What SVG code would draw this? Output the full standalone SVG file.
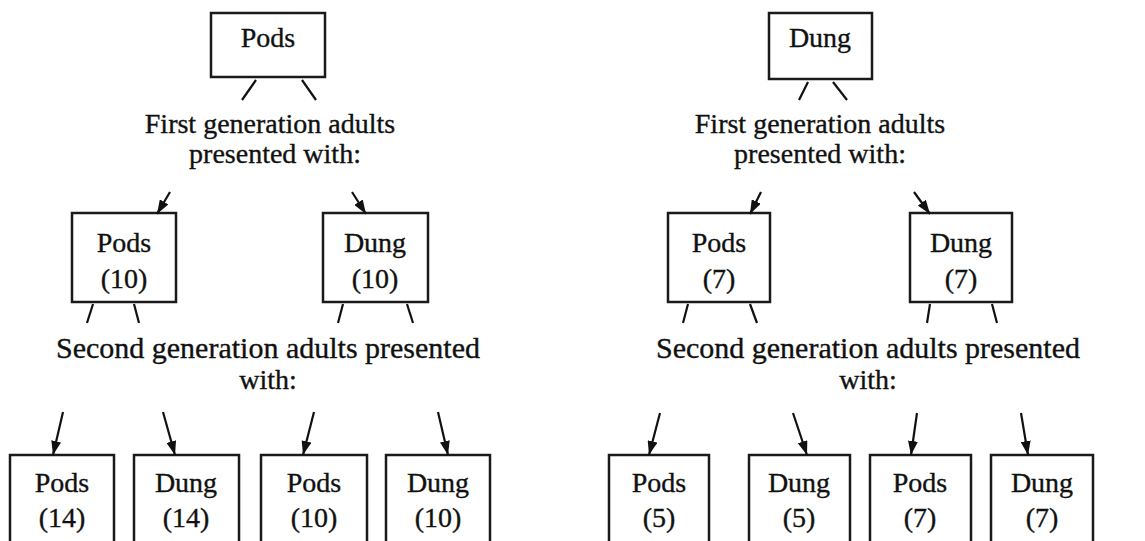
<svg xmlns="http://www.w3.org/2000/svg" width="1145" height="541" viewBox="0 0 1145 541">
<defs>
<style>
.box{fill:#fff;stroke:#1a1a1a;stroke-width:2.5}
.t{font-family:'Liberation Serif','Times New Roman',serif;font-size:28px;fill:#111;stroke:#111;stroke-width:0.35;text-anchor:middle}
.l2{font-size:30px}
.ln{stroke:#111;stroke-width:2.2;fill:none}
.ar{stroke:#111;stroke-width:2.2;fill:none;marker-end:url(#ah)}
</style>
<marker id="ah" viewBox="0 0 14 10" refX="14" refY="5" markerWidth="14" markerHeight="10" markerUnits="userSpaceOnUse" orient="auto">
<path d="M0,0 L14,5 L0,10 z" fill="#111"/>
</marker>
</defs>
<rect width="1145" height="541" fill="#fff"/>

<!-- LEFT TREE -->
<g id="L-root"><rect class="box" x="211" y="13" width="114" height="64"/><text class="t" x="268" y="47">Pods</text></g>
<g id="L-label1"><text class="t" x="270" y="133">First generation adults</text><text class="t" x="275" y="163">presented with:</text></g>
<g id="L-pods10"><rect class="box" x="72" y="213" width="104" height="89"/><text class="t" x="124" y="252">Pods</text><text class="t" x="124" y="288">(10)</text></g>
<g id="L-dung10"><rect class="box" x="323" y="213" width="105" height="89"/><text class="t" x="375" y="252">Dung</text><text class="t" x="375" y="288">(10)</text></g>
<g id="L-label2"><text class="t l2" x="268" y="358">Second generation adults presented</text><text class="t" x="268" y="389">with:</text></g>
<g id="L-pods14"><rect class="box" x="10" y="455" width="104" height="100"/><text class="t" x="62" y="492">Pods</text><text class="t" x="62" y="527">(14)</text></g>
<g id="L-dung14"><rect class="box" x="134" y="455" width="105" height="100"/><text class="t" x="186" y="492">Dung</text><text class="t" x="186" y="527">(14)</text></g>
<g id="L-pods10b"><rect class="box" x="261" y="455" width="106" height="100"/><text class="t" x="314" y="492">Pods</text><text class="t" x="314" y="527">(10)</text></g>
<g id="L-dung10b"><rect class="box" x="386" y="455" width="104" height="100"/><text class="t" x="438" y="492">Dung</text><text class="t" x="438" y="527">(10)</text></g>

<!-- RIGHT TREE -->
<g id="R-root"><rect class="box" x="769" y="13" width="103" height="66"/><text class="t" x="820" y="47">Dung</text></g>
<g id="R-label1"><text class="t" x="820" y="133">First generation adults</text><text class="t" x="820" y="163">presented with:</text></g>
<g id="R-pods7"><rect class="box" x="668" y="213" width="102" height="89"/><text class="t" x="719" y="252">Pods</text><text class="t" x="719" y="288">(7)</text></g>
<g id="R-dung7"><rect class="box" x="910" y="213" width="102" height="89"/><text class="t" x="961" y="252">Dung</text><text class="t" x="961" y="288">(7)</text></g>
<g id="R-label2"><text class="t l2" x="868" y="358">Second generation adults presented</text><text class="t" x="868" y="389">with:</text></g>
<g id="R-pods5"><rect class="box" x="609" y="455" width="100" height="100"/><text class="t" x="659" y="492">Pods</text><text class="t" x="659" y="527">(5)</text></g>
<g id="R-dung5"><rect class="box" x="749" y="455" width="101" height="100"/><text class="t" x="799" y="492">Dung</text><text class="t" x="799" y="527">(5)</text></g>
<g id="R-pods7b"><rect class="box" x="870" y="455" width="101" height="100"/><text class="t" x="920" y="492">Pods</text><text class="t" x="920" y="527">(7)</text></g>
<g id="R-dung7b"><rect class="box" x="991" y="455" width="102" height="100"/><text class="t" x="1042" y="492">Dung</text><text class="t" x="1042" y="527">(7)</text></g>

<g id="connectors">
<line class="ln" x1="256" y1="80" x2="242" y2="100"/>
<line class="ln" x1="302" y1="80" x2="316" y2="100"/>
<line class="ar" x1="170" y1="192" x2="157" y2="214"/>
<line class="ar" x1="352" y1="192" x2="366" y2="214"/>
<line class="ln" x1="93" y1="304" x2="87" y2="323"/>
<line class="ln" x1="134" y1="304" x2="139" y2="323"/>
<line class="ln" x1="343" y1="304" x2="338" y2="323"/>
<line class="ln" x1="407" y1="304" x2="413" y2="323"/>
<line class="ar" x1="63" y1="412" x2="53" y2="455"/>
<line class="ar" x1="163" y1="412" x2="175" y2="455"/>
<line class="ar" x1="314" y1="412" x2="303" y2="455"/>
<line class="ar" x1="438" y1="412" x2="448" y2="455"/>

<line class="ln" x1="808" y1="82" x2="799" y2="100"/>
<line class="ln" x1="833" y1="82" x2="847" y2="100"/>
<line class="ar" x1="761" y1="192" x2="750" y2="214"/>
<line class="ar" x1="914" y1="192" x2="930" y2="214"/>
<line class="ln" x1="688" y1="304" x2="683" y2="323"/>
<line class="ln" x1="750" y1="304" x2="757" y2="323"/>
<line class="ln" x1="930" y1="304" x2="927" y2="323"/>
<line class="ln" x1="992" y1="304" x2="997" y2="323"/>
<line class="ar" x1="660" y1="413" x2="649" y2="455"/>
<line class="ar" x1="793" y1="413" x2="807" y2="455"/>
<line class="ar" x1="917" y1="413" x2="911" y2="455"/>
<line class="ar" x1="1021" y1="413" x2="1028" y2="455"/>
</g>
</svg>
